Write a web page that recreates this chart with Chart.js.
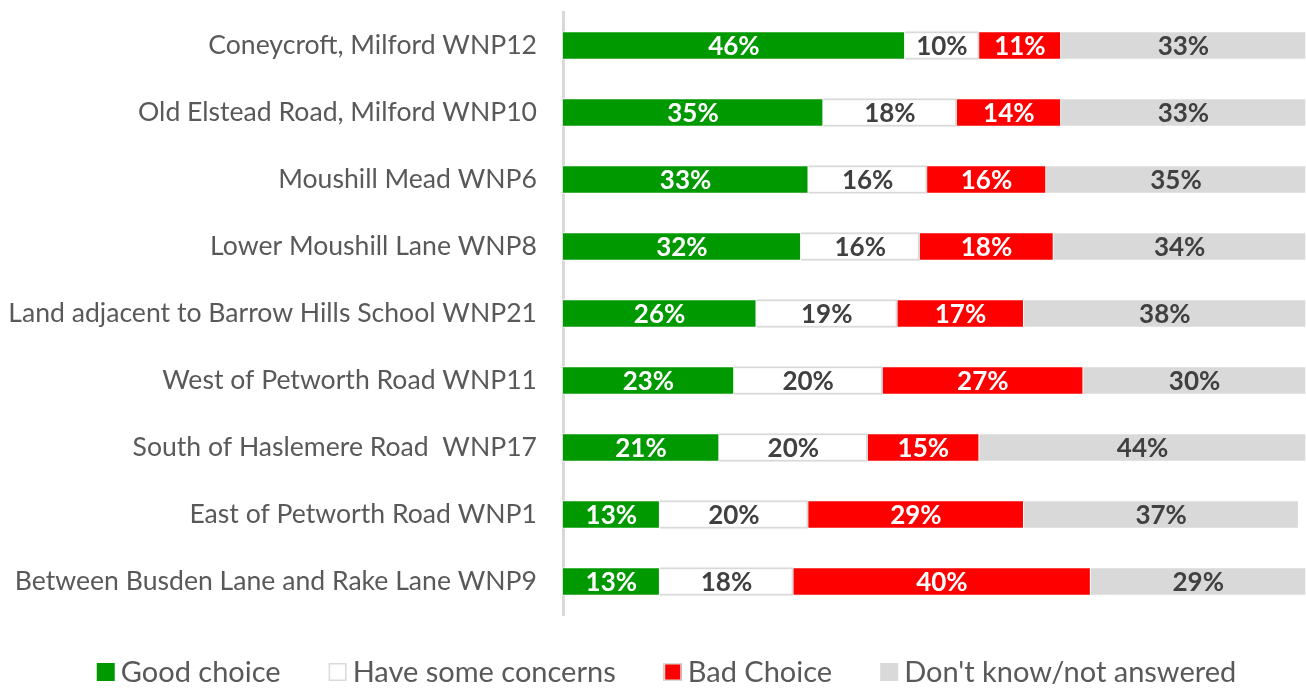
<!DOCTYPE html>
<html>
<head>
<meta charset="utf-8">
<script src="https://cdn.jsdelivr.net/npm/chart.js@4/dist/chart.umd.min.js"></script>
<style>
html,body{margin:0;padding:0;background:#fff;}
#wrap{width:1306px;height:689px;position:relative;}
</style>
</head>
<body>
<div id="wrap"><canvas id="c" width="1306" height="689"></canvas></div>
<script>
const categories = [
  "Coneycroft, Milford WNP12",
  "Old Elstead Road, Milford WNP10",
  "Moushill Mead WNP6",
  "Lower Moushill Lane WNP8",
  "Land adjacent to Barrow Hills School WNP21",
  "West of Petworth Road WNP11",
  "South of Haslemere Road  WNP17",
  "East of Petworth Road WNP1",
  "Between Busden Lane and Rake Lane WNP9"
];
const goodChoice   = [46, 35, 33, 32, 26, 23, 21, 13, 13];
const someConcerns = [10, 18, 16, 16, 19, 20, 20, 20, 18];
const badChoice    = [11, 14, 16, 18, 17, 27, 15, 29, 40];
const dontKnow     = [33, 33, 35, 34, 38, 30, 44, 37, 29];
const seriesNames  = ["Good choice", "Have some concerns", "Bad Choice", "Don't know/not answered"];

const FONT = "Lato, 'Open Sans', sans-serif";

const labelPlugin = {
  id: 'barLabels',
  afterDatasetsDraw(chart) {
    const ctx = chart.ctx;
    ctx.save();
    ctx.font = "bold 26px " + FONT;
    ctx.textAlign = 'center';
    ctx.textBaseline = 'middle';
    chart.data.datasets.forEach((ds, di) => {
      const meta = chart.getDatasetMeta(di);
      meta.data.forEach((el, i) => {
        const v = ds.data[i];
        ctx.fillStyle = ds.labelColor;
        ctx.fillText(v + '%', (el.x + el.base) / 2, el.y + 1);
      });
    });
    ctx.restore();
  }
};

const legendPlugin = {
  id: 'bottomLegend',
  afterDraw(chart) {
    const ctx = chart.ctx;
    ctx.save();
    ctx.font = "29px " + FONT;
    ctx.textBaseline = 'middle';
    ctx.textAlign = 'left';
    const box = 18, gapBox = 6, gapItem = 48, cy = 672;
    const items = chart.data.datasets.map(ds => ({
      text: ds.label, fill: ds.backgroundColor, stroke: ds.legendStroke,
      w: box + gapBox + ctx.measureText(ds.label).width
    }));
    const total = items.reduce((s, it) => s + it.w, 0) + gapItem * (items.length - 1);
    let x = 666.5 - total / 2;
    items.forEach(it => {
      ctx.fillStyle = it.fill;
      ctx.fillRect(x, cy - box / 2, box, box);
      if (it.stroke) {
        ctx.strokeStyle = it.stroke;
        ctx.lineWidth = 1.5;
        ctx.strokeRect(x + 0.75, cy - box / 2 + 0.75, box - 1.5, box - 1.5);
      }
      ctx.fillStyle = '#595959';
      ctx.fillText(it.text, x + box + gapBox, cy + 1);
      x += it.w + gapItem;
    });
    ctx.restore();
  }
};

const chart = new Chart(document.getElementById('c'), {
  type: 'bar',
  data: {
    labels: categories,
    datasets: [
      {label: seriesNames[0], data: goodChoice, backgroundColor: '#009900', borderColor: '#ffffff', borderWidth: 1, labelColor: '#ffffff'},
      {label: seriesNames[1], data: someConcerns, backgroundColor: '#ffffff', borderColor: '#d9d9d9', borderWidth: 2, labelColor: '#404040', legendStroke: '#d9d9d9'},
      {label: seriesNames[2], data: badChoice, backgroundColor: '#ff0000', borderColor: '#ffffff', borderWidth: 1, labelColor: '#ffffff', legendStroke: '#d9d9d9'},
      {label: seriesNames[3], data: dontKnow, backgroundColor: '#d9d9d9', borderColor: '#ffffff', borderWidth: 1, labelColor: '#404040'}
    ]
  },
  options: {
    indexAxis: 'y',
    responsive: false,
    animation: false,
    maintainAspectRatio: false,
    barThickness: 28,
    layout: {autoPadding: false, padding: {top: 12, right: 0, bottom: 74, left: 0}},
    scales: {
      x: {stacked: true, min: 0, max: 100, display: false},
      y: {
        stacked: true,
        grid: {display: false, drawTicks: false},
        border: {display: true, color: '#d9d9d9', width: 3},
        ticks: {color: '#595959', font: {family: FONT, size: 26.6}, padding: 26},
        afterFit(scale) {
          scale.width = 563;
          scale.paddingTop = 0;
          scale.paddingBottom = 0;
        }
      }
    },
    plugins: {
      legend: {display: false},
      title: {display: false},
      subtitle: {display: false},
      tooltip: {enabled: false}
    }
  },
  plugins: [labelPlugin, legendPlugin]
});
</script>
</body>
</html>
